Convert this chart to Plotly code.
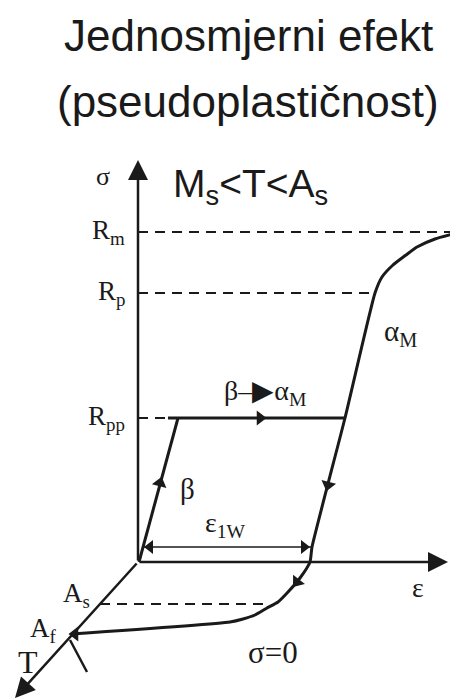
import plotly.graph_objects as go

# Dijagram: ishodište osi u (0, 0), os T ide koso prema dolje lijevo
# put opterećenja: beta -> plato Rpp -> alfa_M -> Rm
beta_x = [1, 40]
beta_y = [0, 144]
plato_x = [30, 207]
plato_y = [144, 144]

# linija alfa_M (od Af preko sigma=0 pa gore do Rm)
am_x = [-66, 92, 105, 117, 129, 140, 150, 162, 172, 174, 207, 237, 244, 255, 268, 279, 297, 319]
am_y = [-72, -60, -57, -53, -46, -40, -30, -16, 0, 15, 144, 269, 285, 297, 307, 315, 323, 329]

# razine naprezanja
razine = {"R<sub>m</sub>": 330, "R<sub>p</sub>": 269, "R<sub>pp</sub>": 144}
crtkano_do = [319, 237, 30]

# As na osi T
as_x = [-38, 129]
as_y = [-42, -42]

# osi: (vrh strelice)
os_sigma = (0, 402)
os_eps = (310, 0)
os_T = (-123, -136)

# crtica kod Af
crtica_x = [-68, -51]
crtica_y = [-78, -110]

# eps_1W
e1w_x = [4, 174]
e1w_y = [15, 15]

# strelice smjera na putanji (x, y, kut)
str_x = [22, 122, 190, 159, -63]
str_y = [79, 144, 77, -20, -72]
str_kut = [15, 90, 194, 218, 270]

CRNA = "#1a1a1a"
SERIF = "Liberation Serif"
SANS = "Liberation Sans, Arial"

fig = go.Figure()

# crtkane linije
for y, xk in zip(razine.values(), crtkano_do):
    fig.add_trace(go.Scatter(x=[0, xk], y=[y, y], mode="lines",
                             line=dict(color=CRNA, width=2, dash="10px,7px")))
fig.add_trace(go.Scatter(x=as_x, y=as_y, mode="lines",
                         line=dict(color=CRNA, width=2, dash="10px,7px")))

# putanje
fig.add_trace(go.Scatter(x=beta_x, y=beta_y, mode="lines",
                         line=dict(color=CRNA, width=3)))
fig.add_trace(go.Scatter(x=plato_x, y=plato_y, mode="lines",
                         line=dict(color=CRNA, width=3)))
fig.add_trace(go.Scatter(x=am_x, y=am_y, mode="lines",
                         line=dict(color=CRNA, width=3, shape="spline", smoothing=0.5)))
fig.add_trace(go.Scatter(x=crtica_x, y=crtica_y, mode="lines",
                         line=dict(color=CRNA, width=2.5)))
fig.add_trace(go.Scatter(x=e1w_x, y=e1w_y, mode="lines",
                         line=dict(color=CRNA, width=1.5)))

# strelice smjera
fig.add_trace(go.Scatter(x=str_x, y=str_y, mode="markers",
                         marker=dict(symbol="triangle-up", size=13, color=CRNA,
                                     angle=str_kut, line=dict(width=0))))
fig.add_trace(go.Scatter(x=[e1w_x[0] + 8, e1w_x[1] - 8], y=e1w_y, mode="markers",
                         marker=dict(symbol="triangle-up", size=12, color=CRNA,
                                     angle=[270, 90], line=dict(width=0))))

# osi sa strelicama
for vrh in [os_sigma, os_eps, os_T]:
    fig.add_annotation(x=vrh[0], y=vrh[1], ax=0, ay=0, xref="x", yref="y",
                       axref="x", ayref="y", text="", showarrow=True,
                       arrowhead=2, arrowsize=1.6, arrowwidth=2.5, arrowcolor=CRNA)

def tekst(x, y, t, vel, font=SERIF, xanchor="center"):
    fig.add_annotation(x=x, y=y, text=t, showarrow=False, xanchor=xanchor,
                       font=dict(family=font, size=vel, color=CRNA))

tekst(110, 527, "Jednosmjerni efekt", 44, SANS)
tekst(110, 461, "(pseudoplastičnost)", 44, SANS)
tekst(112, 376, "M<sub>s</sub>&lt;T&lt;A<sub>s</sub>", 39, SANS)
tekst(-35, 386, "σ", 26)
for ime, y in razine.items():
    tekst(-11, y, ime, 27, xanchor="right")
tekst(262, 229, "α<sub>M</sub>", 29)
tekst(127, 170, "β‒▶α<sub>M</sub>", 28)
tekst(49, 73, "β", 29)
tekst(87, 38, "ε<sub>1W</sub>", 28)
tekst(280, -25, "ε", 28)
tekst(-62, -33, "A<sub>s</sub>", 27)
tekst(-95, -68, "A<sub>f</sub>", 27)
tekst(-110, -100, "T", 32)
tekst(135, -90, "σ=0", 31)

# stranica ima rub od 8 px, pa je slika pomaknuta
fig.update_layout(
    width=450, height=692,
    margin=dict(l=0, r=0, t=0, b=0),
    paper_bgcolor="white", plot_bgcolor="white",
    showlegend=False,
    xaxis=dict(range=[-130, 320], visible=False, fixedrange=True),
    yaxis=dict(range=[-138, 554], visible=False, fixedrange=True),
)

fig.write_html("out.html")
